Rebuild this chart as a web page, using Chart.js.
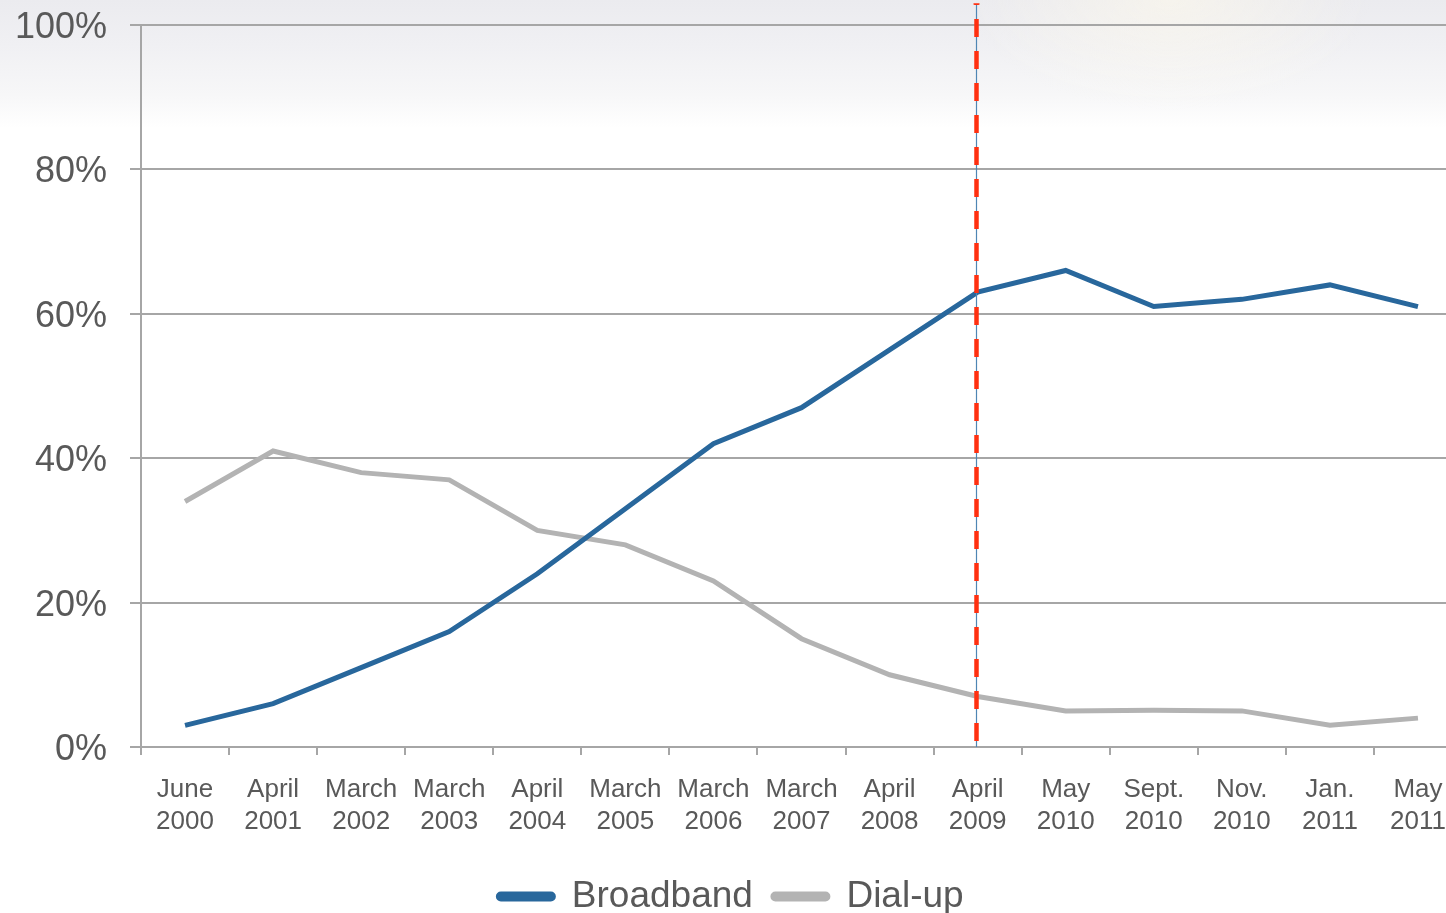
<!DOCTYPE html>
<html>
<head>
<meta charset="utf-8">
<script src="https://cdn.jsdelivr.net/npm/chart.js@4"></script>
<style>
  html, body { margin: 0; padding: 0; overflow: hidden; width: 1446px; height: 913px; }
  body {
    background:
      radial-gradient(ellipse 200px 110px at 1170px 0px, rgba(255,250,235,0.55), rgba(255,255,255,0) 100%),
      linear-gradient(to bottom, #ebebef 0px, #f0f0f3 45px, #f7f7f8 95px, #ffffff 128px, #ffffff 913px);
  }
  #wrap { position: absolute; left: 0; top: 0; width: 1462px; height: 913px; }
</style>
</head>
<body>
<div id="wrap"><canvas id="c"></canvas></div>
<script>
const categories = [
  ["June", "2000"], ["April", "2001"], ["March", "2002"], ["March", "2003"],
  ["April", "2004"], ["March", "2005"], ["March", "2006"], ["March", "2007"],
  ["April", "2008"], ["April", "2009"], ["May", "2010"], ["Sept.", "2010"],
  ["Nov.", "2010"], ["Jan.", "2011"], ["May", "2011"]
];
const broadband = [3, 6, 11, 16, 24, 33, 42, 47, 55, 63, 66, 61, 62, 64, 61];
const dialup = [34, 41, 38, 37, 30, 28, 23, 15, 10, 7, 5, 5.1, 5, 3, 4];
const yTicks = [0, 20, 40, 60, 80, 100];
const markerIndex = 9; // April 2009

const FONT = "'Liberation Sans', Arial, sans-serif";
const TEXT = "#595959";
const GRID = "#a6a6a6";

const markerPlugin = {
  id: 'marker',
  afterDatasetsDraw(chart) {
    const ctx = chart.ctx;
    const x = Math.round(chart.scales.x.getPixelForValue(markerIndex)) - 1.5;
    const yBottom = chart.scales.y.getPixelForValue(0);
    const yTop = 4;
    ctx.save();
    ctx.strokeStyle = '#4f86b4';
    ctx.lineWidth = 1.2;
    ctx.beginPath(); ctx.moveTo(x, yTop); ctx.lineTo(x, yBottom); ctx.stroke();
    ctx.strokeStyle = '#ff3010';
    ctx.lineWidth = 1.5;
    ctx.beginPath(); ctx.moveTo(x - 3, yTop); ctx.lineTo(x + 3, yTop); ctx.stroke();
    ctx.lineWidth = 4.5;
    ctx.setLineDash([18, 14]);
    ctx.lineDashOffset = -15;
    ctx.beginPath(); ctx.moveTo(x, yTop); ctx.lineTo(x, yBottom); ctx.stroke();
    ctx.restore();
  }
};

new Chart(document.getElementById('c'), {
  type: 'line',
  data: {
    labels: categories,
    datasets: [
      { label: 'Broadband', data: broadband, borderColor: '#28679c', backgroundColor: '#28679c',
        borderWidth: 5, pointRadius: 0, tension: 0, fill: false },
      { label: 'Dial-up', data: dialup, borderColor: '#b3b3b3', backgroundColor: '#b3b3b3',
        borderWidth: 5, pointRadius: 0, tension: 0, fill: false }
    ]
  },
  options: {
    responsive: true,
    maintainAspectRatio: false,
    animation: false,
    devicePixelRatio: 1,
    layout: { padding: { top: 25, left: 0, right: 0, bottom: -12 } },
    plugins: {
      tooltip: { enabled: false },
      legend: {
        position: 'bottom',
        labels: {
          color: TEXT,
          font: { family: FONT, size: 37 },
          boxWidth: 55,
          boxHeight: 5,
          padding: 20,
          useBorderRadius: true,
          borderRadius: 2.5
        }
      }
    },
    scales: {
      x: {
        offset: true,
        afterFit(scale) { scale.height = 111; scale.paddingLeft = 0; scale.paddingRight = 0; },
        grid: { display: true, drawOnChartArea: false, offset: true, color: GRID, lineWidth: 2, tickLength: 8 },
        border: { display: true, color: GRID, width: 2 },
        ticks: { color: TEXT, font: { family: FONT, size: 26, lineHeight: 1.23 }, padding: 19, maxRotation: 0, autoSkip: false }
      },
      y: {
        min: 0, max: 100,
        afterBuildTicks(scale) { scale.ticks = yTicks.map(v => ({ value: v })); },
        afterFit(scale) { scale.width = 141; scale.paddingTop = 0; scale.paddingBottom = 0; },
        grid: { color: GRID, lineWidth: 2, tickLength: 11 },
        border: { display: true, color: GRID, width: 2 },
        ticks: { color: TEXT, font: { family: FONT, size: 36 }, padding: 23, labelOffset: 3, callback: v => v + '%' }
      }
    }
  },
  plugins: [markerPlugin]
});
</script>
</body>
</html>
